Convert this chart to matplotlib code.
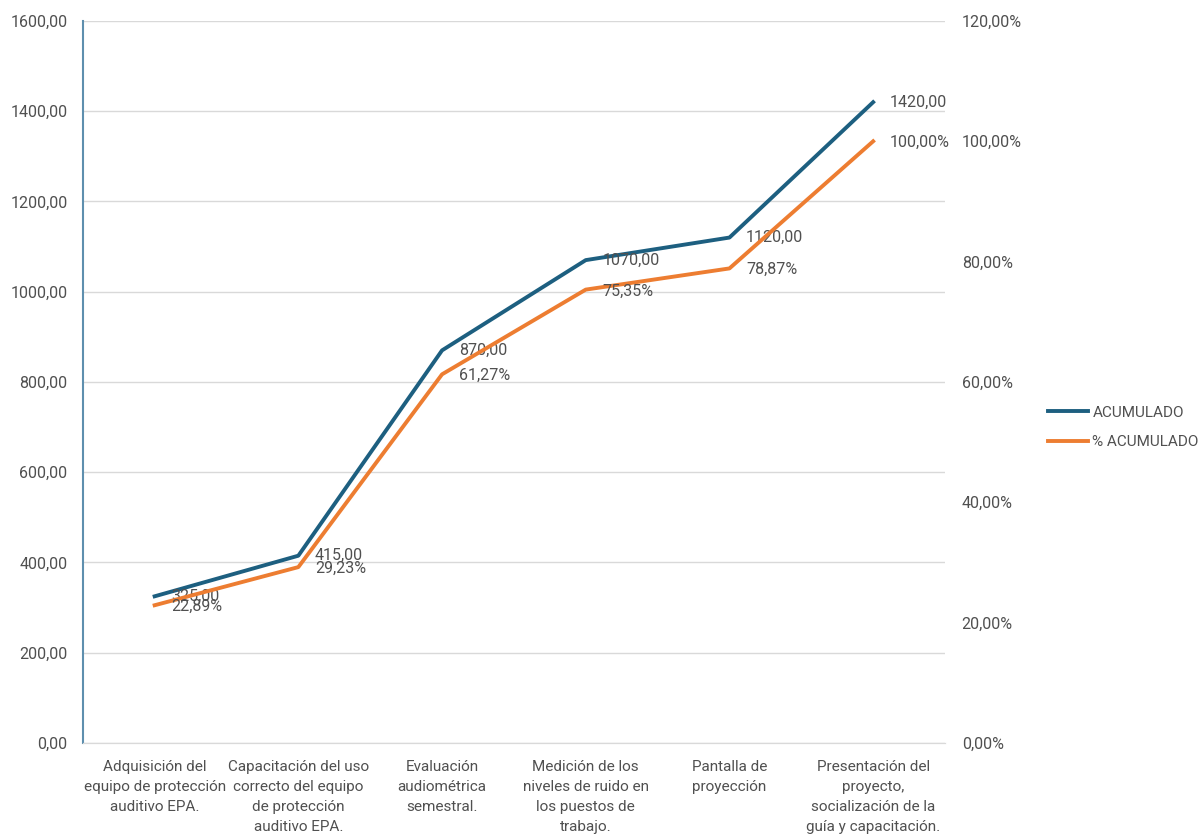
import matplotlib.pyplot as plt
from matplotlib.ticker import FuncFormatter

plt.rcParams['font.family'] = ['Roboto', 'DejaVu Sans']

# Actividades del plan y sus costos acumulados
actividades = [
    'Adquisición del\nequipo de protección\nauditivo EPA.',
    'Capacitación del uso\ncorrecto del equipo\nde protección\nauditivo EPA.',
    'Evaluación\naudiométrica\nsemestral.',
    'Medición de los\nniveles de ruido en\nlos puestos de\ntrabajo.',
    'Pantalla de\nproyección',
    'Presentación del\nproyecto,\nsocialización de la\nguía y capacitación.',
]
acumulado = [325.00, 415.00, 870.00, 1070.00, 1120.00, 1420.00]
pct_acumulado = [22.89, 29.23, 61.27, 75.35, 78.87, 100.00]

azul = '#1d5f80'
naranja = '#ed7d31'
gris_texto = '#505050'

fig = plt.figure(figsize=(12, 8.38), dpi=100)
ax = fig.add_axes([0.069, 0.1134, 0.7185, 0.8616])
ax2 = ax.twinx()

x = list(range(len(actividades)))
l1, = ax.plot(x, acumulado, color=azul, lw=2.8, label='ACUMULADO', zorder=3)
l2, = ax2.plot(x, [p / 100 for p in pct_acumulado], color=naranja, lw=2.8,
               label='% ACUMULADO', zorder=3)

ax.set_xlim(-0.5, len(actividades) - 0.5)
ax.set_ylim(0, 1600)
ax.set_yticks(range(0, 1601, 200))
ax2.set_ylim(0, 1.2)
ax2.set_yticks([i * 0.2 for i in range(7)])

ax.yaxis.set_major_formatter(FuncFormatter(lambda v, _: f'{v:.2f}'.replace('.', ',')))
ax2.yaxis.set_major_formatter(FuncFormatter(lambda v, _: f'{v * 100:.2f}%'.replace('.', ',')))

ax.set_xticks(x)
ax.set_xticklabels(actividades, fontsize=11, color=gris_texto, linespacing=1.55)

ax.grid(axis='y', color='#d9d9d9', lw=1)
ax.set_axisbelow(True)
for a in (ax, ax2):
    for s in ('top', 'right', 'left'):
        a.spines[s].set_visible(False)
    a.spines['bottom'].set_color('#d9d9d9')
    a.tick_params(length=0, labelsize=11.5, labelcolor=gris_texto)
ax.spines['left'].set_visible(True)
ax.spines['left'].set_color('#5e8fae')
ax.spines['left'].set_linewidth(1.5)
ax.tick_params(axis='y', pad=11)
ax.tick_params(axis='x', pad=12, labelsize=11)
ax2.tick_params(axis='y', pad=12)

# Etiquetas de datos a la derecha de cada punto
for xi, v in zip(x, acumulado):
    ax.annotate(f'{v:.2f}'.replace('.', ','), (xi, v), xytext=(12, 0),
                textcoords='offset points', va='center', ha='left',
                fontsize=11.5, color=gris_texto, zorder=4)
for xi, p in zip(x, pct_acumulado):
    ax2.annotate(f'{p:.2f}%'.replace('.', ','), (xi, p / 100), xytext=(12, -1),
                 textcoords='offset points', va='center', ha='left',
                 fontsize=11.5, color=gris_texto, zorder=4)

fig.legend(handles=[l1, l2], loc='center left', bbox_to_anchor=(0.862, 0.49),
           frameon=False, fontsize=11, labelcolor=gris_texto,
           handlelength=2.6, handletextpad=0.3, labelspacing=1.0)

fig.savefig('out.png', dpi=100)
